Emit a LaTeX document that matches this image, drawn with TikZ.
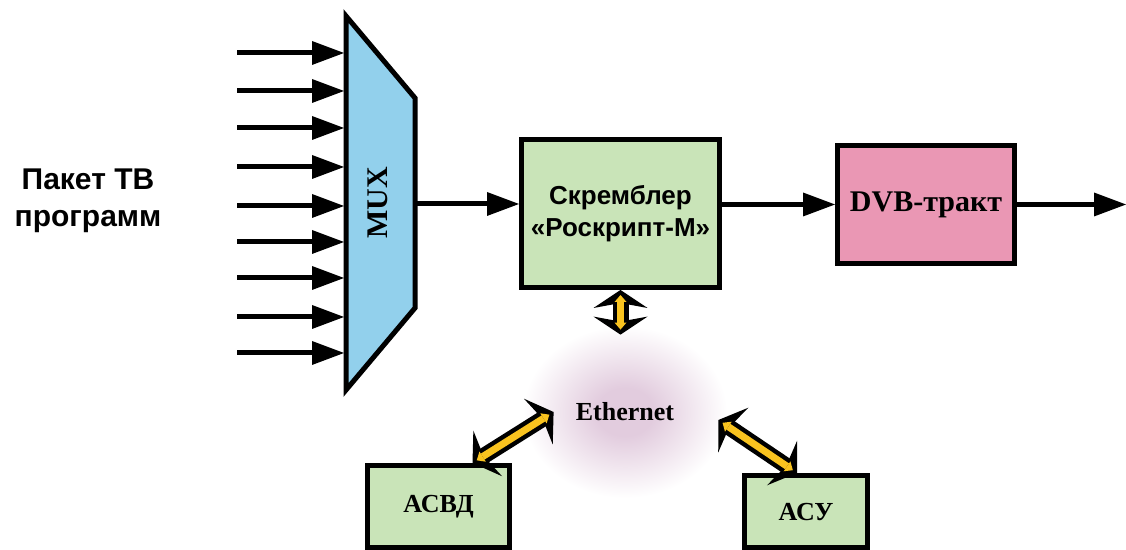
\documentclass[tikz,border=0pt]{standalone}
\usepackage{fontspec}
\setmainfont{Liberation Serif}
\setsansfont{Liberation Sans}
\usepackage{tikz}
\usetikzlibrary{arrows.meta,positioning,shapes.geometric,calc}
\definecolor{mylightblue}{RGB}{146,208,236}
\definecolor{mygreen}{RGB}{201,228,184}
\definecolor{mypink}{RGB}{234,151,180}
\definecolor{myyellow}{RGB}{249,195,31}
\definecolor{mylilac}{RGB}{226,204,222}
\pgfdeclareradialshading{myglow}{\pgfpoint{0bp}{0bp}}{color(0bp)=(mylilac); color(7bp)=(mylilac); color(25bp)=(white); color(50bp)=(white)}

\begin{document}
\begin{tikzpicture}[
  x=0.5pt, y=-0.5pt,
  myarrow/.style={line width=2.5pt, -{Triangle[length=16pt,width=12pt,line width=0pt]}},
  mybox/.style={draw, line width=2.5pt, fill=#1},
  dblarrow/.style={
    line width=8pt,
    {Stealth[length=9pt,width=27pt,inset=2.5pt,line width=0pt]}-{Stealth[length=9pt,width=27pt,inset=2.5pt,line width=0pt]},
    postaction={draw=myyellow, line width=3.5pt, shorten <=2.5pt, shorten >=2.5pt,
      {Triangle[length=3.5pt,width=6pt,line width=0pt]}-{Triangle[length=3.5pt,width=6pt,line width=0pt]}}
    },
  mytext/.style={font=\bfseries\fontsize{13}{15}\selectfont},
  mysans/.style={font=\sffamily\bfseries\fontsize{13}{16}\selectfont, align=center}
]
\useasboundingbox (0,0) rectangle (1126,550);

\node[ellipse, shade, shading=myglow, minimum width=102pt, minimum height=86pt, mytext] (ethernet) at (625,412) {Ethernet};

\draw[line width=2.5pt, fill=mylightblue] (346,16) -- (415,98) -- (415,308) -- (346,390) -- cycle;
\node[rotate=90, font=\bfseries\fontsize{15}{18}\selectfont] (muxname) at (378,203) {MUX};
\coordinate (muxout) at (415,204);

\foreach \y [count=\i from 1] in {53,91,128,167,206,242,278,317,353}
{
  \coordinate (in\i) at (237,\y);
  \coordinate (mux\i) at (344,\y);
  \draw[myarrow] (in\i) -- (mux\i);
}

\node[font=\sffamily\bfseries\fontsize{15}{18.5}\selectfont, align=center] (packet) at (88,201) {Пакет ТВ\\программ};

\node[mybox=mygreen, minimum width=99pt, minimum height=74pt, mysans] (scrambler) at (620.5,213.5) {Скремблер\\«Роскрипт-М»};
\node[mybox=mypink, minimum width=88.5pt, minimum height=59pt, font=\bfseries\fontsize{15}{18}\selectfont] (dvb) at (926,204.5) {DVB-тракт};
\node[mybox=mygreen, minimum width=71pt, minimum height=41.25pt, mytext] (asvd) at (438.5,506.75) {АСВД};
\node[mybox=mygreen, minimum width=61.5pt, minimum height=36.25pt, mytext] (asu) at (806,511.75) {АСУ};
\coordinate (out) at (1126,204.5);
\coordinate (ethtop) at ([yshift=-4.5pt]ethernet.north -| scrambler.south);

\draw[myarrow] (muxout) -- (scrambler.west |- muxout);
\draw[myarrow] (scrambler.east |- dvb.west) -- (dvb.west);
\draw[myarrow] (dvb.east) -- (out);

\draw[dblarrow] (scrambler.south) -- (ethtop);
\draw[dblarrow] ([xshift=17pt]asvd.north) -- ([xshift=15.5pt]ethernet.west);
\draw[dblarrow] ([xshift=-4.5pt]asu.north) -- ([xshift=-4.5pt,yshift=-4pt]ethernet.east);
\end{tikzpicture}
\end{document}
